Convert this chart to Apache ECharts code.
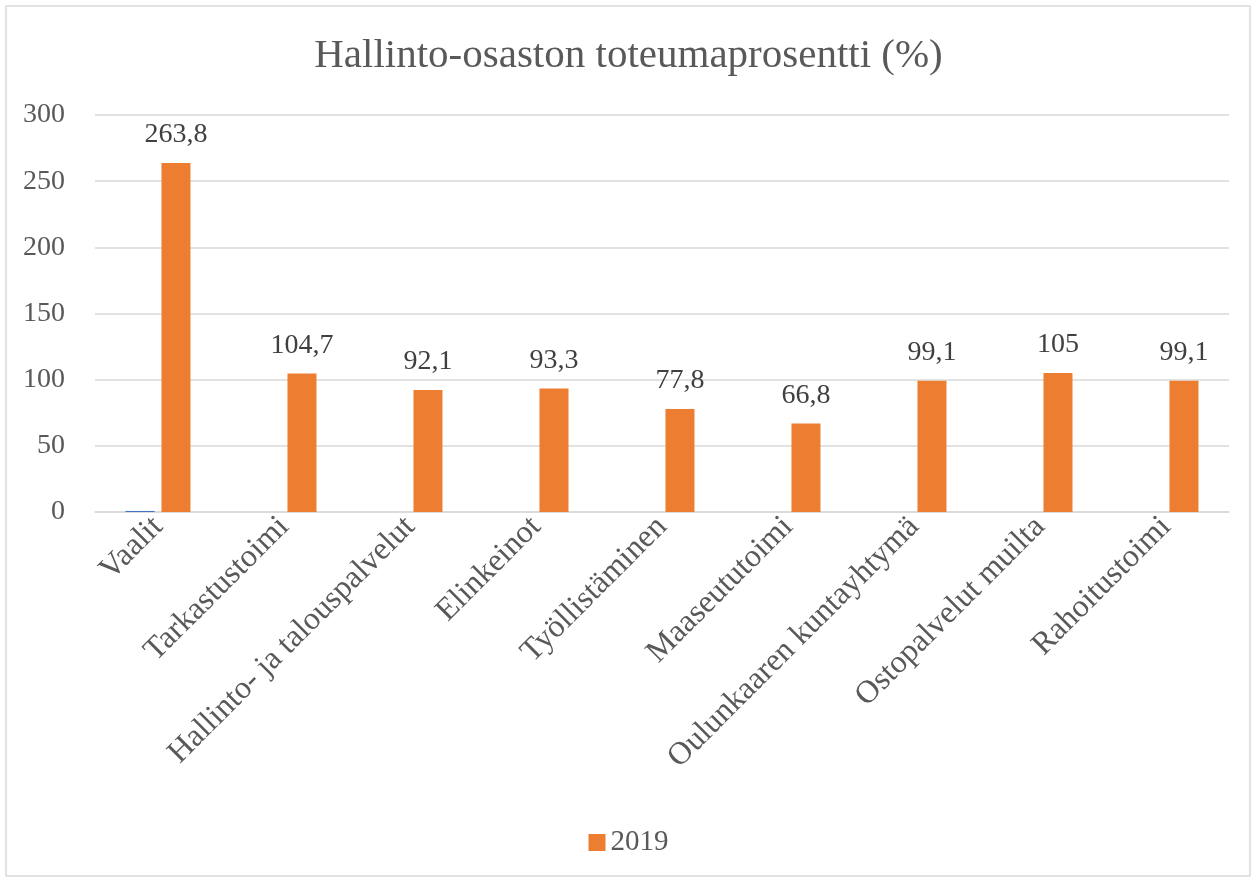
<!DOCTYPE html>
<html>
<head>
<meta charset="utf-8">
<script src="https://cdn.jsdelivr.net/npm/echarts@6/dist/echarts.min.js"></script>
<style>
  html, body { margin: 0; padding: 0; background: #fff; }
  #chart { width: 1257px; height: 881px; }
</style>
</head>
<body>
<div id="chart"></div>
<script>
var categories = ['Vaalit', 'Tarkastustoimi', 'Hallinto- ja talouspalvelut', 'Elinkeinot',
  'Työllistäminen', 'Maaseututoimi', 'Oulunkaaren kuntayhtymä', 'Ostopalvelut muilta', 'Rahoitustoimi'];
var values2018 = [0.8, 0, 0, 0, 0, 0, 0, 0, 0];
var values2019 = [263.8, 104.7, 92.1, 93.3, 77.8, 66.8, 99.1, 105, 99.1];

var font = 'Liberation Serif';
var chart = echarts.init(document.getElementById('chart'));
chart.setOption({
  backgroundColor: '#fff',
  title: {
    text: 'Hallinto-osaston toteumaprosentti (%)',
    left: 'center',
    top: 31,
    textStyle: { fontFamily: font, fontSize: 41, fontWeight: 'normal', color: '#595959' }
  },
  legend: {
    data: ['2019'],
    bottom: 19,
    left: 'center',
    icon: 'rect',
    itemWidth: 17,
    itemHeight: 17,
    itemGap: 7,
    textStyle: { fontFamily: font, fontSize: 29, color: '#595959' }
  },
  grid: { left: 95, right: 28, top: 115, bottom: 369 },
  xAxis: {
    type: 'category',
    data: categories,
    axisLine: { lineStyle: { color: '#d9d9d9', width: 1.5 } },
    axisTick: { show: false },
    axisLabel: {
      rotate: 45,
      interval: 0,
      margin: 10,
      fontFamily: font,
      fontSize: 32,
      color: '#595959'
    }
  },
  yAxis: {
    type: 'value',
    min: 0,
    max: 300,
    interval: 50,
    axisLine: { show: false },
    axisTick: { show: false },
    splitLine: { lineStyle: { color: '#d9d9d9', width: 1.5 } },
    axisLabel: { fontFamily: font, fontSize: 28, color: '#595959', margin: 30 }
  },
  series: [
    {
      name: '2018',
      type: 'bar',
      data: values2018,
      barWidth: 29,
      barGap: '24%',
      itemStyle: { color: '#4472c4' }
    },
    {
      name: '2019',
      type: 'bar',
      data: values2019,
      barWidth: 29,
      itemStyle: { color: '#ed7d31' },
      label: {
        show: true,
        position: 'top',
        distance: 14,
        fontFamily: font,
        fontSize: 28,
        color: '#404040',
        formatter: function (p) { return String(p.value).replace('.', ','); }
      }
    }
  ],
  graphic: [{
    type: 'rect',
    shape: { x: 6, y: 6, width: 1244, height: 870 },
    style: { fill: 'none', stroke: '#d9d9d9', lineWidth: 1.5 },
    silent: true
  }]
});
</script>
</body>
</html>
